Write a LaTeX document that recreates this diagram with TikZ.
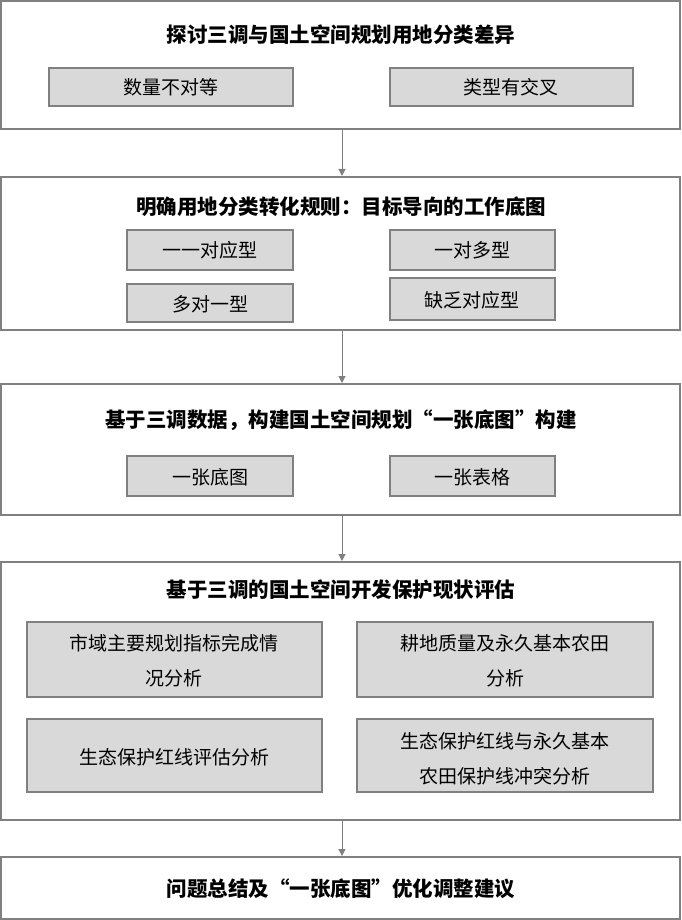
\documentclass[tikz,border=0pt]{standalone}
\usepackage{fontspec}
\setmainfont{Noto Sans CJK SC}
\usetikzlibrary{arrows.meta}
\definecolor{bd}{HTML}{808080}
\definecolor{fl}{HTML}{D9D9D9}
\begin{document}
\begin{tikzpicture}[x=1pt,y=-1pt,
  outer/.style={draw=bd,line width=1.6pt},
  inner/.style={draw=bd,fill=fl,line width=1.2pt},
  ttl/.style={font=\fontsize{20.5}{24}\selectfont\bfseries},
  itx/.style={font=\fontsize{19}{35}\selectfont,align=center},
  arr/.style={draw=bd,line width=1pt,-{Triangle[length=7pt,width=7pt]}}]
\useasboundingbox (0,0) rectangle (681,920);
\fill[white] (0,0) rectangle (681,920);
% boxes
\draw[outer] (1,1) rectangle (680,129);
\node[ttl] (t1) at (341,35) {探讨三调与国土空间规划用地分类差异};
\draw[inner] (49,68) rectangle (293,106); \node[itx] (i11) at (171,87) {数量不对等};
\draw[inner] (390,68) rectangle (633,106); \node[itx] (i12) at (511,87) {类型有交叉};

\draw[outer] (1,177) rectangle (680,330);
\node[ttl] (t2) at (341,207) {明确用地分类转化规则：目标导向的工作底图};
\draw[inner] (127,230) rectangle (293,270); \node[itx] (i21) at (210,250) {一一对应型};
\draw[inner] (390,230) rectangle (555,270); \node[itx] (i22) at (472,250) {一对多型};
\draw[inner] (127,284) rectangle (293,322); \node[itx] (i23) at (210,304) {多对一型};
\draw[inner] (390,278) rectangle (555,320); \node[itx] (i24) at (472,300) {缺乏对应型};

\draw[outer] (1,384) rectangle (680,515);
\node[ttl] (t3) at (341,420) {基于三调数据，构建国土空间规划“一张底图”构建};
\draw[inner] (127,456) rectangle (293,496); \node[itx] (i31) at (210,477) {一张底图};
\draw[inner] (390,456) rectangle (555,496); \node[itx] (i32) at (472,477) {一张表格};

\draw[outer] (1,562) rectangle (680,820);
\node[ttl] (t4) at (341,590) {基于三调的国土空间开发保护现状评估};
\draw[inner] (27,622) rectangle (322,697); \node[itx] (i41) at (174,661) {市域主要规划指标完成情\\况分析};
\draw[inner] (357,622) rectangle (653,697); \node[itx] (i42) at (505,661) {耕地质量及永久基本农田\\分析};
\draw[inner] (27,719) rectangle (322,792); \node[itx] (i43) at (174,757) {生态保护红线评估分析};
\draw[inner] (357,719) rectangle (653,792); \node[itx] (i44) at (505,759) {生态保护红线与永久基本\\农田保护线冲突分析};

\draw[outer] (1,857) rectangle (680,919);
\node[ttl] (t5) at (341,889) {问题总结及“一张底图”优化调整建议};

\coordinate (a1) at (342,130); \coordinate (a2) at (342,176);
\coordinate (a3) at (342,331); \coordinate (a4) at (342,383);
\coordinate (a5) at (342,516); \coordinate (a6) at (342,561);
\coordinate (a7) at (342,821); \coordinate (a8) at (342,856);
\draw[arr] (a1) -- (a2);
\draw[arr] (a3) -- (a4);
\draw[arr] (a5) -- (a6);
\draw[arr] (a7) -- (a8);
\end{tikzpicture}
\end{document}
